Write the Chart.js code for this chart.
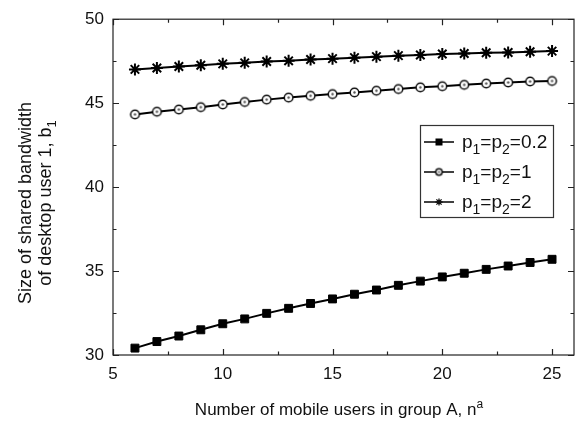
<!DOCTYPE html>
<html>
<head>
<meta charset="utf-8">
<script src="https://cdn.jsdelivr.net/npm/chart.js@4/dist/chart.umd.min.js"></script>
<style>
  html, body { margin: 0; padding: 0; background: #fff; }
  #wrap { width: 582px; height: 426px; }
</style>
</head>
<body>
<div id="wrap"><canvas id="c" width="582" height="426"></canvas></div>
<script>
// Number of mobile users in group A
const usersA = [6, 7, 8, 9, 10, 11, 12, 13, 14, 15, 16, 17, 18, 19, 20, 21, 22, 23, 24, 25];

// Shared bandwidth of desktop user 1 for each price setting
const bwP02 = [30.41, 30.80, 31.13, 31.50, 31.86, 32.15, 32.48, 32.78, 33.07, 33.34,
               33.62, 33.87, 34.15, 34.40, 34.65, 34.87, 35.10, 35.30, 35.51, 35.70];
const bwP1  = [44.33, 44.49, 44.62, 44.76, 44.92, 45.07, 45.21, 45.33, 45.44, 45.54,
               45.64, 45.74, 45.84, 45.94, 46.01, 46.09, 46.17, 46.23, 46.29, 46.32];
const bwP2  = [47.01, 47.09, 47.18, 47.26, 47.34, 47.40, 47.48, 47.52, 47.60, 47.65,
               47.71, 47.77, 47.83, 47.87, 47.93, 47.96, 48.00, 48.02, 48.06, 48.10];

// Legend labels ("_" = subscript, "^" = superscript)
const seriesLabels = ['p_1=p_2=0.2', 'p_1=p_2=1', 'p_1=p_2=2'];
const xTitle = 'Number of mobile users in group A, n^a';
const yTitleLines = ['Size of shared bandwidth', 'of desktop user 1, b_1'];

// Axis ticks
const xTicks = [5, 10, 15, 20, 25];
const yTicks = [30, 35, 40, 45, 50];

const FONT = '"Liberation Sans", Arial, sans-serif';
const INK = '#111';

// Ring marker with a small dot in the centre
function ringMarker(r) {
  const s = Math.ceil(r * 2 + 4);
  const cv = document.createElement('canvas');
  cv.width = s; cv.height = s;
  const g = cv.getContext('2d');
  g.beginPath(); g.arc(s / 2, s / 2, r, 0, Math.PI * 2);
  g.fillStyle = '#fff'; g.fill();
  g.lineWidth = 1.5; g.strokeStyle = '#111'; g.stroke();
  g.beginPath(); g.arc(s / 2, s / 2, Math.max(1, r * 0.28), 0, Math.PI * 2);
  g.fillStyle = '#555'; g.fill();
  return cv;
}
const ringBig = ringMarker(4.3);
const ringSmall = ringMarker(3.2);

// Split a label into normal / sub / sup runs
function parseRich(str) {
  const out = [];
  let buf = '';
  for (let i = 0; i < str.length; i++) {
    const ch = str[i];
    if ((ch === '_' || ch === '^') && i + 1 < str.length) {
      if (buf) { out.push({ t: buf, k: 0 }); buf = ''; }
      out.push({ t: str[i + 1], k: ch === '_' ? 1 : -1 });
      i++;
    } else buf += ch;
  }
  if (buf) out.push({ t: buf, k: 0 });
  return out;
}

function richWidth(ctx, runs, size, subScale) {
  let w = 0;
  for (const r of runs) {
    ctx.font = (r.k ? Math.round(size * subScale) : size) + 'px ' + FONT;
    w += ctx.measureText(r.t).width;
  }
  return w;
}

// Draw rich text with baseline at y; align: 'left' | 'center'
function drawRich(ctx, str, x, y, size, align, subScale = 0.72) {
  const runs = parseRich(str);
  let cx = align === 'center' ? x - richWidth(ctx, runs, size, subScale) / 2 : x;
  ctx.textBaseline = 'alphabetic';
  ctx.textAlign = 'left';
  for (const r of runs) {
    const fs = r.k ? Math.round(size * subScale) : size;
    ctx.font = fs + 'px ' + FONT;
    const dy = r.k === 1 ? size * 0.3 : (r.k === -1 ? -size * 0.42 : 0);
    ctx.fillText(r.t, cx, y + dy);
    cx += ctx.measureText(r.t).width;
  }
}

const framePlugin = {
  id: 'frameAndTitles',
  afterDatasetsDraw(chart) {
    const { ctx, chartArea: a, scales } = chart;
    const xs = scales.x, ys = scales.y;
    ctx.save();
    ctx.strokeStyle = '#222';
    ctx.lineWidth = 1.2;
    ctx.strokeRect(a.left, a.top, a.right - a.left, a.bottom - a.top);

    // inward ticks on all four sides
    ctx.beginPath();
    for (let v = 5; v <= 26; v += 2.5) {
      const px = Math.round(xs.getPixelForValue(v)) + 0.5;
      const len = (v % 5 === 0) ? 6 : 3.5;
      ctx.moveTo(px, a.bottom); ctx.lineTo(px, a.bottom - len);
      ctx.moveTo(px, a.top); ctx.lineTo(px, a.top + len);
    }
    for (let v = 30; v <= 50; v += 2.5) {
      const py = Math.round(ys.getPixelForValue(v)) + 0.5;
      const len = (v % 5 === 0) ? 6 : 3.5;
      ctx.moveTo(a.left, py); ctx.lineTo(a.left + len, py);
      ctx.moveTo(a.right, py); ctx.lineTo(a.right - len, py);
    }
    ctx.stroke();

    // axis titles
    ctx.fillStyle = INK;
    drawRich(ctx, xTitle, 339, 415, 17, 'center');
    ctx.save();
    ctx.rotate(-Math.PI / 2);
    drawRich(ctx, yTitleLines[0], -203, 31, 18, 'center');
    drawRich(ctx, yTitleLines[1], -203, 51, 18, 'center');
    ctx.restore();

    // legend
    const L = { x: 420, y: 125, w: 133, h: 92, row0: 142, step: 30 };
    ctx.fillStyle = '#fff';
    ctx.fillRect(L.x, L.y, L.w, L.h);
    ctx.strokeStyle = '#333';
    ctx.lineWidth = 1.2;
    ctx.strokeRect(L.x + 0.5, L.y + 0.5, L.w, L.h);
    chart.data.datasets.forEach((ds, i) => {
      const y = L.row0 + i * L.step;
      ctx.strokeStyle = '#111';
      ctx.lineWidth = 1.6;
      ctx.beginPath(); ctx.moveTo(L.x + 4, y); ctx.lineTo(L.x + 34, y); ctx.stroke();
      const cx = L.x + 19;
      if (i === 0) {
        ctx.fillStyle = '#000';
        ctx.fillRect(cx - 3.5, y - 3.5, 7, 7);
      } else if (i === 1) {
        ctx.drawImage(ringSmall, cx - ringSmall.width / 2, y - ringSmall.height / 2);
      } else {
        ctx.lineWidth = 1.3;
        ctx.beginPath();
        const r = 3.6;
        ctx.moveTo(cx - r, y); ctx.lineTo(cx + r, y);
        ctx.moveTo(cx, y - r); ctx.lineTo(cx, y + r);
        const d = r * 0.72;
        ctx.moveTo(cx - d, y - d); ctx.lineTo(cx + d, y + d);
        ctx.moveTo(cx - d, y + d); ctx.lineTo(cx + d, y - d);
        ctx.stroke();
      }
      ctx.fillStyle = INK;
      drawRich(ctx, ds.label, L.x + 42, y + 6, 19, 'left', 0.76);
    });
    ctx.restore();
  }
};

const toPts = ys => usersA.map((x, i) => ({ x, y: ys[i] }));

new Chart(document.getElementById('c'), {
  type: 'line',
  data: {
    datasets: [
      { label: seriesLabels[0], data: toPts(bwP02), borderColor: '#000', borderWidth: 2,
        pointStyle: 'rect', pointRadius: 5.6, pointBackgroundColor: '#000', pointBorderColor: '#000', pointBorderWidth: 1 },
      { label: seriesLabels[1], data: toPts(bwP1), borderColor: '#000', borderWidth: 2,
        pointStyle: ringBig, pointRadius: 5 },
      { label: seriesLabels[2], data: toPts(bwP2), borderColor: '#000', borderWidth: 2,
        pointStyle: 'star', pointRadius: 6, pointBorderColor: '#000', pointBorderWidth: 2, pointBackgroundColor: '#000' }
    ]
  },
  options: {
    responsive: false,
    animation: false,
    layout: { padding: { top: 14, right: 4, left: 0, bottom: 0 } },
    plugins: { legend: { display: false }, tooltip: { enabled: false } },
    scales: {
      x: {
        type: 'linear', min: 5, max: 26,
        afterFit: s => { s.height = 71; },
        afterBuildTicks: s => { s.ticks = xTicks.map(v => ({ value: v })); },
        grid: { display: false, drawTicks: false },
        border: { display: false },
        ticks: { padding: 9, color: INK, font: { family: FONT, size: 17 }, maxRotation: 0 }
      },
      y: {
        type: 'linear', min: 30, max: 50,
        afterFit: s => { s.width = 113; },
        afterBuildTicks: s => { s.ticks = yTicks.map(v => ({ value: v })); },
        grid: { display: false, drawTicks: false },
        border: { display: false },
        ticks: { padding: 9, color: INK, font: { family: FONT, size: 17 } }
      }
    }
  },
  plugins: [framePlugin]
});
</script>
</body>
</html>
